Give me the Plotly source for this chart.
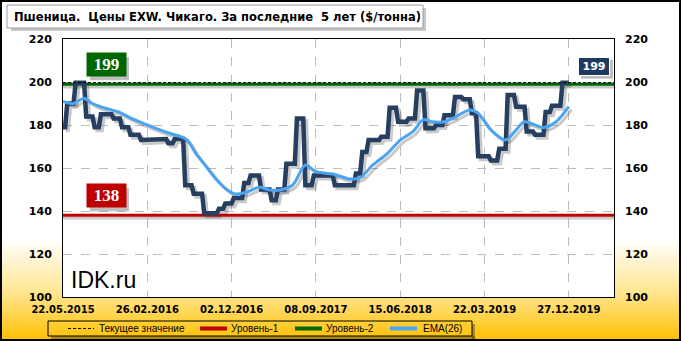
import base64
import pandas as pd
import plotly.graph_objects as go

# ---------------- data ----------------
start_date = "2015-05-22"
title_text = "Пшеница.  Цены EXW. Чикаго. За последние  5 лет ($/тонна)"

price = [
    179, 179, 190, 190, 190, 190, 199.7, 199.7, 199.7, 199.7,
    199.7, 184, 184, 184, 184, 179, 179, 179, 185, 185,
    185, 185, 185, 185, 183, 183, 183, 183, 179, 179,
    179, 179, 175.5, 175.5, 175.5, 175.5, 175.5, 173, 173, 173,
    173, 173, 173, 173, 173, 173.5, 173.5, 173.5, 173.5, 173.5,
    171.5, 171.5, 171.5, 173.5, 173.5, 173.5, 173.5, 173.5, 152, 152,
    152, 152, 148, 148, 148, 148, 148, 139, 139, 139,
    139, 139, 139, 139, 141, 141, 141, 143.5, 143.5, 143.5,
    143.5, 146, 146, 146, 146, 146, 153, 153, 153, 156.5,
    156.5, 156.5, 156.5, 156.5, 150, 150, 150, 150, 150, 145,
    145, 145, 150, 150, 150, 150, 162, 162, 162, 162,
    162, 183, 183, 183, 183, 152, 152, 152, 152, 156.5,
    156.5, 156.5, 156.5, 156.5, 156.5, 156.5, 156.5, 156.5, 156.5, 152,
    152, 152, 152, 152, 152, 152, 152, 152, 152, 157.5,
    157.5, 157.5, 167.5, 167.5, 167.5, 173, 173, 173, 173, 173,
    173, 174.5, 174.5, 174.5, 174.5, 188, 188, 188, 188, 181.5,
    181.5, 181.5, 181.5, 181.5, 183, 183, 183, 183, 196, 196,
    196, 196, 178.5, 178.5, 178.5, 178.5, 178.5, 180, 180, 180,
    180, 184.5, 184.5, 184.5, 184.5, 184.5, 193, 193, 193, 193,
    192, 192, 192, 192, 185.5, 185.5, 185.5, 165.5, 165.5, 165.5,
    165.5, 165.5, 165.5, 163.5, 163.5, 163.5, 163.5, 169, 169, 169,
    169, 194, 194, 194, 194, 188.5, 188.5, 188.5, 188.5, 188.5,
    177, 177, 177, 177, 175.5, 175.5, 175.5, 175.5, 175.5, 186,
    186, 186, 189, 189, 189, 189, 189, 199.7, 199.7, 199.7,
    199.7,
]

ema_week = [0, 5, 10, 14, 20, 26, 33, 40, 46, 52, 56, 59, 63, 68, 73, 78, 82, 87,
            93, 98, 103, 109, 115, 120, 128, 136, 141, 147, 154, 160, 166, 171,
            175, 181, 185, 193, 197, 203, 210, 215, 219, 228, 234, 240]
ema_vals = [191, 190, 192.5, 190, 187.8, 186.2, 182.8, 180, 177.7, 175.7, 174.6,
            173, 166.8, 160.6, 154.4, 149.8, 147.9, 148.7, 151, 149.8, 149.8,
            152.1, 161.4, 158.3, 157.2, 154.9, 155.5, 161.4, 166.8, 173, 176.9,
            182.5, 181.5, 181.5, 183.1, 187, 185.4, 177.7, 173, 177.7, 181.5,
            178.8, 181.5, 188.5]

level_1 = 138
level_2 = 199
current_value = 199.7
current_label = "199"

tick_labels = ["22.05.2015", "26.02.2016", "02.12.2016", "08.09.2017",
               "15.06.2018", "22.03.2019", "27.12.2019"]
y_ticks = [100, 120, 140, 160, 180, 200, 220]
x_end = "2020-05-25 03:00"

legend_names = ["Текущее значение", "Уровень-1", "Уровень-2", "EMA(26)"]

# ---------------- derived ----------------
dates = pd.date_range(start_date, periods=len(price), freq="7D")
ema_dates = dates[ema_week]
tick_vals = pd.to_datetime(tick_labels, format="%d.%m.%Y")
x_span = [pd.Timestamp(start_date), pd.Timestamp(x_end)]

C_PRICE = "#263f60"
C_EMA = "#4ca4f0"
C_RED = "#c00000"
C_GREEN = "#006600"
C_SHADOW = "rgba(60,60,60,0.28)"
SH_DX = pd.Timedelta(days=9)
SH_DY = 1.3

# plot area in pixels
L, R, T, B = 63, 614, 39, 297
W, H = 681, 341


def px(x):
    return (x - L) / (R - L)


def py(y):
    return (B - y) / (B - T)


fig = go.Figure()

# shadows
for lv in (level_1, level_2):
    fig.add_trace(go.Scatter(x=[x_span[0], x_span[1]], y=[lv - SH_DY, lv - SH_DY],
                             mode="lines", line=dict(color=C_SHADOW, width=3),
                             hoverinfo="skip", showlegend=False))
fig.add_trace(go.Scatter(x=dates + SH_DX, y=[v - SH_DY for v in price], mode="lines",
                         line=dict(color=C_SHADOW, width=4.5), hoverinfo="skip",
                         showlegend=False))
fig.add_trace(go.Scatter(x=ema_dates + SH_DX, y=[v - SH_DY for v in ema_vals], mode="lines",
                         line=dict(color=C_SHADOW, width=3, shape="spline", smoothing=0.8),
                         hoverinfo="skip", showlegend=False))

# levels
fig.add_trace(go.Scatter(x=x_span, y=[level_1, level_1], mode="lines",
                         line=dict(color=C_RED, width=3), name=legend_names[1], showlegend=False))
fig.add_trace(go.Scatter(x=x_span, y=[level_2, level_2], mode="lines",
                         line=dict(color=C_GREEN, width=3), name=legend_names[2], showlegend=False))

# price & EMA
fig.add_trace(go.Scatter(x=dates, y=price, mode="lines", line=dict(color=C_PRICE, width=4.5),
                         name="Цена", showlegend=False))
fig.add_trace(go.Scatter(x=ema_dates, y=ema_vals, mode="lines",
                         line=dict(color=C_EMA, width=3, shape="spline", smoothing=0.8),
                         name=legend_names[3], showlegend=False))

# current value (on right axis)
fig.add_trace(go.Scatter(x=x_span, y=[current_value, current_value], mode="lines",
                         line=dict(color="black", width=1, dash="3px,2px"),
                         name=legend_names[0], showlegend=False, yaxis="y2"))

tick_font = dict(family="DejaVu Sans", size=11, color="black", weight="bold")

fig.update_layout(
    width=W, height=H,
    margin=dict(l=L, r=W - R, t=T, b=H - B, pad=0),
    paper_bgcolor="white", plot_bgcolor="white",
    showlegend=False,
    xaxis=dict(type="date", range=x_span, tickvals=tick_vals, ticktext=tick_labels,
               showgrid=True, gridcolor="#bdbdbd", griddash="dash", gridwidth=1,
               showline=True, mirror=True, linecolor="black", linewidth=1,
               ticks="", tickfont=dict(family="DejaVu Sans", size=10, color="black", weight="bold"),
               ticklabelstandoff=3, zeroline=False),
    yaxis=dict(range=[100, 220], tickvals=y_ticks, showgrid=True, gridcolor="#bdbdbd",
               griddash="dash", gridwidth=1, showline=True, mirror=True, linecolor="black",
               linewidth=1, ticks="", tickfont=tick_font, ticklabelstandoff=8, zeroline=False),
    yaxis2=dict(range=[100, 220], tickvals=y_ticks, overlaying="y", side="right",
                showgrid=False, showline=False, ticks="", tickfont=tick_font,
                ticklabelstandoff=10, zeroline=False),
)

# background gradient
svg = ('<svg xmlns="http://www.w3.org/2000/svg" width="681" height="341">'
       '<defs><linearGradient id="g" x1="0" y1="0" x2="0" y2="1">'
       '<stop offset="0" stop-color="#ffffff"/><stop offset="0.70" stop-color="#ffffff"/>'
       '<stop offset="0.86" stop-color="#ffe58f"/><stop offset="1" stop-color="#ffc000"/>'
       '</linearGradient></defs><rect width="681" height="341" fill="url(#g)"/></svg>')
src = "data:image/svg+xml;base64," + base64.b64encode(svg.encode()).decode()
fig.add_layout_image(dict(source=src, xref="paper", yref="paper", x=px(0), y=py(0),
                          sizex=W / (R - L), sizey=H / (B - T), sizing="stretch",
                          xanchor="left", yanchor="top", layer="below"))

shapes = []
# white plot area
shapes.append(dict(type="rect", xref="paper", yref="paper", x0=0, x1=1, y0=0, y1=1,
                   fillcolor="white", line=dict(width=0), layer="below"))
# outer border
shapes.append(dict(type="rect", xref="paper", yref="paper", x0=px(1), x1=px(680),
                   y0=py(340), y1=py(1), line=dict(color="black", width=2)))
# title box with shadow
shapes.append(dict(type="rect", xref="paper", yref="paper", x0=px(11), x1=px(426),
                   y0=py(31), y1=py(8), fillcolor="rgba(0,0,0,0.22)", line=dict(width=0)))
shapes.append(dict(type="rect", xref="paper", yref="paper", x0=px(7), x1=px(423),
                   y0=py(28), y1=py(5), fillcolor="white", line=dict(color="#9a9a9a", width=1)))
# legend box with shadow strips
shapes.append(dict(type="rect", xref="paper", yref="paper", x0=px(472), x1=px(475),
                   y0=py(339), y1=py(324), fillcolor="rgba(0,0,0,0.3)", line=dict(width=0)))
shapes.append(dict(type="rect", xref="paper", yref="paper", x0=px(51), x1=px(475),
                   y0=py(339), y1=py(336), fillcolor="rgba(0,0,0,0.3)", line=dict(width=0)))
shapes.append(dict(type="rect", xref="paper", yref="paper", x0=px(48), x1=px(472),
                   y0=py(336), y1=py(321), line=dict(color="black", width=1)))
# legend samples
leg_y = py(328.5)
shapes.append(dict(type="line", xref="paper", yref="paper", x0=px(68), x1=px(94),
                   y0=leg_y, y1=leg_y, line=dict(color="black", width=1, dash="3px,2px")))
for (x0, x1, c) in [(200, 227, C_RED), (295, 322, C_GREEN), (390, 417, C_EMA)]:
    shapes.append(dict(type="line", xref="paper", yref="paper", x0=px(x0), x1=px(x1),
                       y0=leg_y, y1=leg_y, line=dict(color=c, width=4)))
# label-box shadows (pixel sized, anchored at the level values)
for lv in (level_2, level_1):
    shapes.append(dict(type="rect", xref="paper", yref="y", xsizemode="pixel",
                       ysizemode="pixel", xanchor=px(106.5), yanchor=lv,
                       x0=-19.5 + 3, x1=19.5 + 3, y0=4, y1=27,
                       fillcolor="rgba(0,0,0,0.25)", line=dict(width=0)))
shapes.append(dict(type="rect", xref="paper", yref="y", xsizemode="pixel",
                   ysizemode="pixel", xanchor=px(594), yanchor=current_value,
                   x0=-16 + 3, x1=16 + 3, y0=4, y1=23,
                   fillcolor="rgba(0,0,0,0.25)", line=dict(width=0)))
fig.update_layout(shapes=shapes)

ann = []
leg_font = dict(family="Liberation Sans", size=10, color="black")
for xt, name in zip([97, 229, 324, 421], legend_names):
    ann.append(dict(xref="paper", yref="paper", x=px(xt), y=leg_y, text=name,
                    showarrow=False, xanchor="left", yanchor="middle", font=leg_font))
# title
ann.append(dict(xref="paper", yref="paper", x=px(12), y=py(16.5), text=title_text,
                showarrow=False, xanchor="left", yanchor="middle",
                font=dict(family="DejaVu Sans", size=11.5, color="black", weight="bold")))
# watermark
ann.append(dict(xref="paper", yref="paper", x=px(69), y=py(280), text="IDK.ru",
                showarrow=False, xanchor="left", yanchor="middle",
                font=dict(family="Liberation Sans", size=23, color="black")))

# level labels
serif = dict(family="Liberation Serif", size=17, color="white", weight="bold")
for lv, txt, col in [(level_2, str(level_2), C_GREEN), (level_1, str(level_1), C_RED)]:
    ann.append(dict(xref="paper", yref="y", x=px(106.5), y=lv, text=txt,
                    showarrow=False, xanchor="center", yanchor="bottom", yshift=7,
                    width=33, height=17, borderpad=3, bgcolor=col, font=serif))
# current value label
ann.append(dict(xref="paper", yref="y", x=px(594), y=current_value, text=current_label,
                showarrow=False, xanchor="center", yanchor="bottom", yshift=7,
                width=26, height=13, borderpad=2, borderwidth=1, bordercolor="white",
                bgcolor="#1f3a5f",
                font=dict(family="DejaVu Sans", size=11, weight="bold", color="white")))
fig.update_layout(annotations=ann)

fig.write_html("out.html")
